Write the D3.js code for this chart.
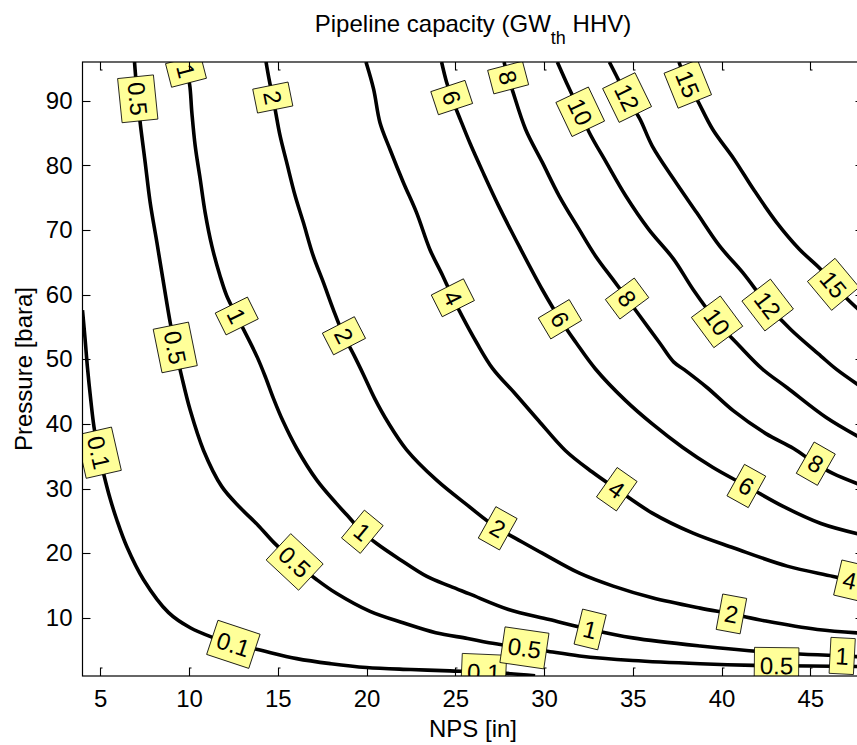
<!DOCTYPE html>
<html><head><meta charset="utf-8">
<script src="https://cdn.jsdelivr.net/npm/d3@7"></script>
<style>
body{margin:0;background:#fff}
text{font-family:"Liberation Sans",Arial,Helvetica,sans-serif}
</style>
</head><body>
<svg id="c" width="857" height="745"></svg>
<script>
// ---------- data ----------
const titleMain = "Pipeline capacity (GW";
const titleSub = "th";
const titleEnd = " HHV)";
const xLabel = "NPS [in]";
const yLabel = "Pressure [bara]";
const xDomain = [4, 48];
const yDomain = [1, 96];
const xTicks = [5, 10, 15, 20, 25, 30, 35, 40, 45];
const yTicks = [10, 20, 30, 40, 50, 60, 70, 80, 90];
const levels = [0.1, 0.5, 1, 2, 4, 6, 8, 10, 12, 15];

const contour_0_1 = [[4.0,57.6],[4.15,53.0],[4.28,48.7],[4.47,43.6],[4.65,39.5],[4.9,35.8],[5.19,32.3],[5.55,28.5],[5.94,25.1],[6.5,21.0],[7.44,15.9],[8.85,10.8],[10.07,8.46],[11.38,6.92],[12.5,5.9],[13.8,5.13],[16.07,3.69],[18,2.9],[20.0,2.31],[22.5,2.0],[24.7,1.79],[27.7,1.44],[29.5,1.05]];
const contour_0_5 = [[6.93,96.0],[7.05,92],[7.25,86.6],[7.53,80.5],[7.81,74.3],[8.19,68.1],[8.56,61.9],[8.94,55.7],[9.25,51.5],[9.6,47.2],[10.07,42.1],[10.82,35.9],[11.85,30.3],[12.9,27.0],[13.9,24.3],[14.8,21.6],[15.97,18.6],[17.2,15.9],[18.3,13.8],[20.2,11.0],[22.1,9.2],[23.9,7.7],[25.7,6.8],[26.9,6.15],[28.9,5.35],[30.1,4.87],[32.0,4.1],[35.0,3.4],[38.8,2.9],[41.8,2.65],[45.0,2.55],[48,2.45]];
const contour_1 = [[9.7,96.0],[9.85,94.4],[10.03,92.6],[10.16,88.2],[10.35,83.0],[10.63,77.9],[10.91,72.7],[11.29,67.5],[11.75,62.9],[12.13,59.8],[12.69,56.7],[13.3,53.4],[13.85,50.3],[14.3,47.3],[14.75,44.0],[15.3,40.4],[16.07,36.2],[17.2,31.3],[18.3,27.7],[18.9,25.9],[19.73,23.4],[20.57,21.5],[21.9,19.0],[23.4,16.4],[24.7,14.9],[25.8,13.7],[28.0,11.3],[30.3,9.74],[32.6,8.2],[35.0,6.9],[38.8,5.64],[42.5,4.72],[46.8,4.1],[48,3.95]];
const contour_2 = [[14.34,96.0],[14.5,93.5],[14.72,90.5],[14.85,88.7],[15.13,84.6],[15.5,80.5],[15.98,75.3],[16.44,71.2],[17.0,66.0],[17.57,61.9],[18.13,57.7],[18.7,53.8],[19.3,50.6],[19.85,47.5],[20.45,44.0],[21.2,40.3],[22.26,36.0],[23.95,31.3],[25.7,27.4],[27.36,23.9],[28.4,22.3],[29.9,20.0],[32.0,16.9],[33.9,14.9],[36.1,13.1],[38.8,11.5],[40.57,10.6],[42.5,9.5],[45.4,8.2],[48,7.6]];
const contour_4 = [[19.97,96.0],[20.4,91.8],[20.76,86.6],[21.32,82.5],[22.07,77.4],[22.82,72.7],[23.57,67.0],[24.3,62.9],[24.85,59.6],[25.4,56.6],[26.2,52.6],[27.1,48.6],[28.4,44.6],[29.7,40.5],[31.2,35.9],[32.7,32.6],[34.1,29.9],[36.1,26.2],[38.4,23.1],[40.7,20.8],[43.7,18.0],[46.3,16.4],[48,15.3]];
const contour_6 = [[24.23,96.0],[24.5,93.0],[24.8,90.5],[25.3,87.0],[25.85,83.3],[26.55,79.0],[27.45,73.7],[28.6,67.5],[29.9,60.8],[30.9,56.2],[31.8,52.6],[32.9,48.5],[34.6,43.6],[36.1,40.0],[37.8,36.4],[39.5,33.3],[41.4,30.4],[43.5,27.2],[45.6,24.6],[48,22.8]];
const contour_8 = [[27.75,96.0],[27.98,93.6],[28.2,91.8],[28.96,85.6],[29.9,80.5],[30.85,75.3],[31.98,70.1],[32.9,66.0],[33.87,62.4],[34.68,59.4],[35.4,56.7],[36.5,52.6],[37.3,49.6],[37.9,48.4],[39.2,45.6],[40.66,42.05],[42.5,38.5],[44.06,36.2],[45.28,33.9],[46.3,32.3],[48,30.4]];
const contour_10 = [[30.75,96.0],[31.4,92.0],[32.04,88.3],[32.55,85.1],[33.5,80.5],[34.6,75.3],[35.9,70.1],[37.3,65.5],[38.4,60.8],[39.75,55.8],[41.0,52.1],[42.3,48.5],[43.7,45.6],[45.9,41.0],[48,37.6]];
const contour_12 = [[33.68,96.0],[34.2,93.2],[34.68,90.5],[35.4,87.2],[36.1,83.0],[37.3,77.9],[38.6,72.7],[39.9,67.5],[41.2,63.4],[42.6,58.4],[43.9,54.6],[45.6,50.5],[46.5,48.4],[48,45.5]];
const contour_15 = [[37.6,96.0],[38.1,92.6],[38.6,90.3],[39.5,85.6],[40.7,81.0],[41.8,76.3],[43.1,71.2],[44.4,67.0],[45.6,63.9],[46.3,61.6],[47.1,59.3],[48,57.0]];
const contourLines = [contour_0_1, contour_0_5, contour_1, contour_2, contour_4, contour_6, contour_8, contour_10, contour_12, contour_15];

// contour label anchors: level, x, y
const labelLevel = [0.1, 0.1, 0.1, 0.5, 0.5, 0.5, 0.5, 0.5, 1, 1, 1, 1, 1, 2, 2, 2, 2, 4, 4, 4, 6, 6, 6, 8, 8, 8, 10, 10, 12, 12, 15, 15];
const labelX = [5.0, 12.5, 26.6, 7.1, 9.16, 15.97, 28.9, 43.1, 9.81, 12.69, 19.73, 32.6, 46.8, 14.72, 18.7, 27.36, 40.57, 24.85, 34.1, 47.2, 24.8, 30.9, 41.4, 27.98, 34.68, 45.28, 32.04, 39.75, 34.68, 42.6, 38.1, 46.3];
const labelY = [35.6, 5.9, 1.4, 90.3, 51.8, 18.7, 5.4, 2.66, 94.6, 56.7, 23.2, 8.2, 4.1, 90.5, 53.6, 23.7, 10.77, 59.5, 29.9, 15.6, 90.5, 56.2, 30.4, 93.6, 59.4, 33.7, 88.3, 55.8, 90.5, 58.4, 92.6, 61.6];

// ---------- drawing ----------
const FS = 24;
const svg = d3.select("#c");
const x = d3.scaleLinear().domain(xDomain).range([82.5, 863.5]);
const y = d3.scaleLinear().domain(yDomain).range([676, 62]);
const L = x(xDomain[0]), R = x(xDomain[1]), T = y(yDomain[1]), B = y(yDomain[0]);

svg.append("rect").attr("width", 857).attr("height", 745).attr("fill", "#fff");

svg.append("defs").append("clipPath").attr("id", "clip")
  .append("rect").attr("x", L).attr("y", T).attr("width", R - L).attr("height", B - T);

const plot = svg.append("g").attr("clip-path", "url(#clip)");

const line = d3.line().x(d => x(d[0])).y(d => y(d[1])).curve(d3.curveCatmullRom.alpha(0.5));
plot.selectAll("path.ct").data(contourLines).join("path")
  .attr("class", "ct")
  .attr("d", line)
  .attr("fill", "none")
  .attr("stroke", "#000")
  .attr("stroke-width", 3.6)
  .attr("stroke-linejoin", "round")
  .attr("stroke-linecap", "butt");

function snap(pts, px, py) {
  let best = null;
  for (let i = 0; i < pts.length - 1; i++) {
    const ax = x(pts[i][0]), ay = y(pts[i][1]);
    const bx = x(pts[i + 1][0]), by = y(pts[i + 1][1]);
    const dx = bx - ax, dy = by - ay;
    const len2 = dx * dx + dy * dy;
    let t = ((px - ax) * dx + (py - ay) * dy) / len2;
    t = Math.max(0, Math.min(1, t));
    const qx = ax + t * dx, qy = ay + t * dy;
    const d2 = (qx - px) ** 2 + (qy - py) ** 2;
    if (!best || d2 < best.d2) {
      let ang = Math.atan2(dy, dx) * 180 / Math.PI;
      if (ang > 90) ang -= 180;
      if (ang < -90) ang += 180;
      best = { d2, x: qx, y: qy, ang };
    }
  }
  return best;
}

const labelsG = plot.append("g");
labelLevel.forEach((lev, i) => {
  const pts = contourLines[levels.indexOf(lev)];
  const s = snap(pts, x(labelX[i]), y(labelY[i]));
  const g = labelsG.append("g").attr("transform", `translate(${s.x},${s.y}) rotate(${s.ang})`);
  const rect = g.append("rect");
  const t = g.append("text").text(String(lev))
    .attr("text-anchor", "middle")
    .attr("dy", "0.36em")
    .attr("font-size", FS)
    .attr("fill", "#000");
  const w = t.node().getComputedTextLength() + 11;
  const h = 36;
  rect.attr("x", -w / 2).attr("y", -h / 2).attr("width", w).attr("height", h)
    .attr("fill", "#ffff99").attr("stroke", "#000").attr("stroke-width", 0.8);
});

// axes box
svg.append("rect").attr("x", L).attr("y", T).attr("width", R - L).attr("height", B - T)
  .attr("fill", "none").attr("stroke", "#000").attr("stroke-width", 1.2);

// ticks (inward, with small MATLAB-style nub)
const tk = svg.append("g").attr("stroke", "#000").attr("stroke-width", 1.1).attr("fill", "none");
xTicks.forEach(v => {
  const px = Math.round(x(v)) + 0.5;
  tk.append("path").attr("d", `M${px},${B} V${B - 8} h2`);
  tk.append("path").attr("d", `M${px},${T} V${T + 8} h2`);
});
yTicks.forEach(v => {
  const py = Math.round(y(v)) + 0.5;
  tk.append("path").attr("d", `M${L},${py} H${L + 8}`);
  tk.append("path").attr("d", `M${R},${py} H${R - 8}`);
});

// tick labels through d3 axes (tick lines hidden)
const xAxis = svg.append("g").attr("transform", `translate(0,${B})`)
  .call(d3.axisBottom(x).tickValues(xTicks).tickSize(0).tickPadding(14).tickFormat(d3.format("d")));
const yAxis = svg.append("g").attr("transform", `translate(${L},0)`)
  .call(d3.axisLeft(y).tickValues(yTicks).tickSize(0).tickPadding(10).tickFormat(d3.format("d")));
[xAxis, yAxis].forEach(a => {
  a.select(".domain").remove();
  a.selectAll("text").attr("font-size", FS).attr("font-family", '"Liberation Sans",Arial,sans-serif').attr("fill", "#000");
});

// title
const title = svg.append("text").attr("x", (L + R) / 2).attr("y", 32)
  .attr("text-anchor", "middle").attr("font-size", FS).attr("fill", "#000");
title.append("tspan").text(titleMain);
title.append("tspan").text(titleSub).attr("font-size", 18).attr("dy", 12);
title.append("tspan").text(titleEnd).attr("dy", -12);

// axis labels
svg.append("text").attr("x", (L + R) / 2).attr("y", 737)
  .attr("text-anchor", "middle").attr("font-size", FS).attr("fill", "#000").text(xLabel);
svg.append("text").attr("transform", `translate(32,${(T + B) / 2}) rotate(-90)`)
  .attr("text-anchor", "middle").attr("font-size", FS).attr("fill", "#000").text(yLabel);
</script>
</body></html>
